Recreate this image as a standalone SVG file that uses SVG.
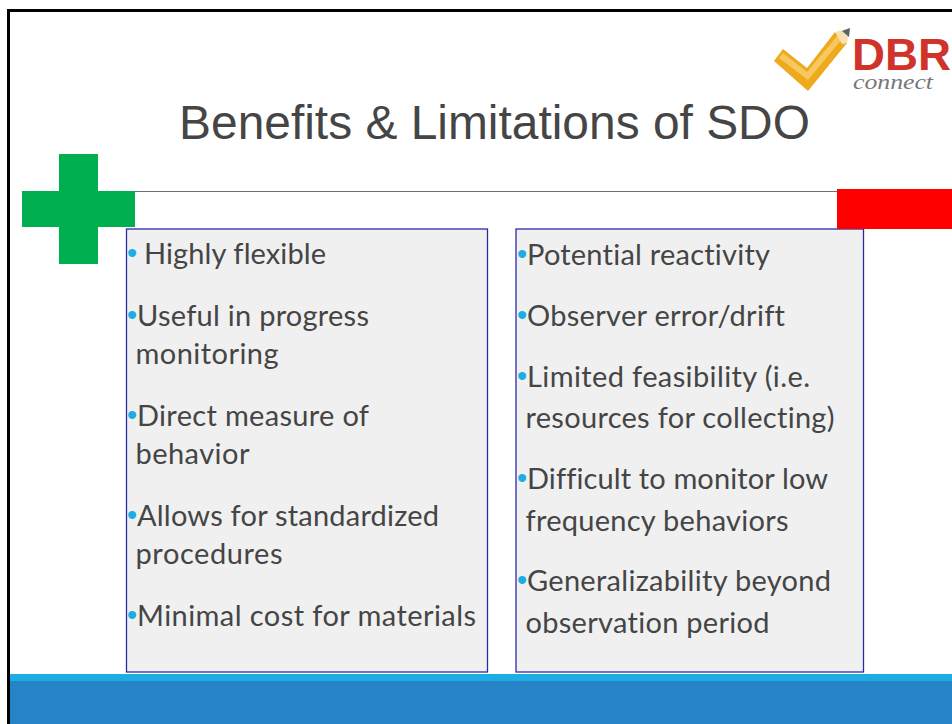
<svg xmlns="http://www.w3.org/2000/svg" width="952" height="724" viewBox="0 0 952 724">
<style>
.t{font-family:"Lato","Carlito","Noto Sans",sans-serif;font-size:29px;fill:#454545;font-variant-ligatures:none}
.b{font-family:"Liberation Sans",Arial,sans-serif;font-size:29px;fill:#1cade4}
.box{fill:#f0f0f0;stroke:#2b2ba8;stroke-width:1.3}
</style>
<rect width="952" height="724" fill="#fff"/>
<rect x="7" y="9" width="945" height="3" fill="#000"/>
<rect x="7" y="9" width="3" height="715" fill="#000"/>
<g id="footer">
<rect x="10" y="674" width="942" height="7" fill="#1cade4"/>
<rect x="10" y="681" width="942" height="43" fill="#2683c6"/>
</g>
<g id="logo">
<path d="M774 61L783 49L807 68L835 32L847 43L808 91Z" fill="#efa91c"/>
<path d="M779 58L783 53L807 72L838 35L842 39L808 80Z" fill="#f7c860"/>
<path d="M835 32L850 28L847 43L842 44Z" fill="#f6e2b0"/>
<path d="M842 31L850 28L849 37Z" fill="#56666f"/>
<text x="852" y="70" font-family="Liberation Sans,Arial,sans-serif" font-size="44" font-weight="700" fill="#cf3329" textLength="99" lengthAdjust="spacingAndGlyphs">DBR</text>
<text x="853" y="89" font-family="Liberation Serif,serif" font-style="italic" font-size="21" fill="#777" textLength="80" lengthAdjust="spacingAndGlyphs">connect</text>
</g>
<text id="title" x="494.500" y="139" text-anchor="middle" font-family="Liberation Sans,Arial,sans-serif" font-size="47.9" fill="#454545">Benefits &amp; Limitations of SDO</text>
<line x1="135" y1="191.5" x2="838" y2="191.5" stroke="#6f6f80" stroke-width="1"/>
<g id="left-box">
<rect class="box" x="126.500" y="229" width="361" height="443"/>
<text class="b" x="127" y="263">•</text><text class="t" x="144" y="264" textLength="182">Highly flexible</text>
<text class="b" x="127" y="325">•</text><text class="t" x="137" y="326" textLength="232">Useful in progress</text>
<text class="t" x="135.500" y="364" textLength="143">monitoring</text>
<text class="b" x="127" y="425">•</text><text class="t" x="137" y="426" textLength="232">Direct measure of</text>
<text class="t" x="135.500" y="464" textLength="114">behavior</text>
<text class="b" x="127" y="525">•</text><text class="t" x="137" y="526" textLength="302">Allows for standardized</text>
<text class="t" x="135.500" y="564" textLength="147">procedures</text>
<text class="b" x="127" y="625">•</text><text class="t" x="137" y="626" textLength="339">Minimal cost for materials</text>
</g>
<g id="right-box">
<rect class="box" x="516" y="229" width="347.500" height="443"/>
<text class="b" x="517" y="264">•</text><text class="t" x="527" y="265" textLength="243">Potential reactivity</text>
<text class="b" x="517" y="325">•</text><text class="t" x="527" y="326" textLength="258">Observer error/drift</text>
<text class="b" x="517" y="386">•</text><text class="t" x="527" y="387" textLength="283">Limited feasibility (i.e.</text>
<text class="t" x="525.500" y="428" textLength="309">resources for collecting)</text>
<text class="b" x="517" y="488">•</text><text class="t" x="527" y="489" textLength="301">Difficult to monitor low</text>
<text class="t" x="525.500" y="531" textLength="263">frequency behaviors</text>
<text class="b" x="517" y="590">•</text><text class="t" x="527" y="591" textLength="304">Generalizability beyond</text>
<text class="t" x="525.500" y="633" textLength="244">observation period</text>
</g>
<path id="plus" d="M59 154H98V191H135V227H98V264H59V227H22V191H59Z" fill="#00b050"/>
<rect id="minus" x="837" y="189" width="115" height="40" fill="#f00"/>
</svg>
